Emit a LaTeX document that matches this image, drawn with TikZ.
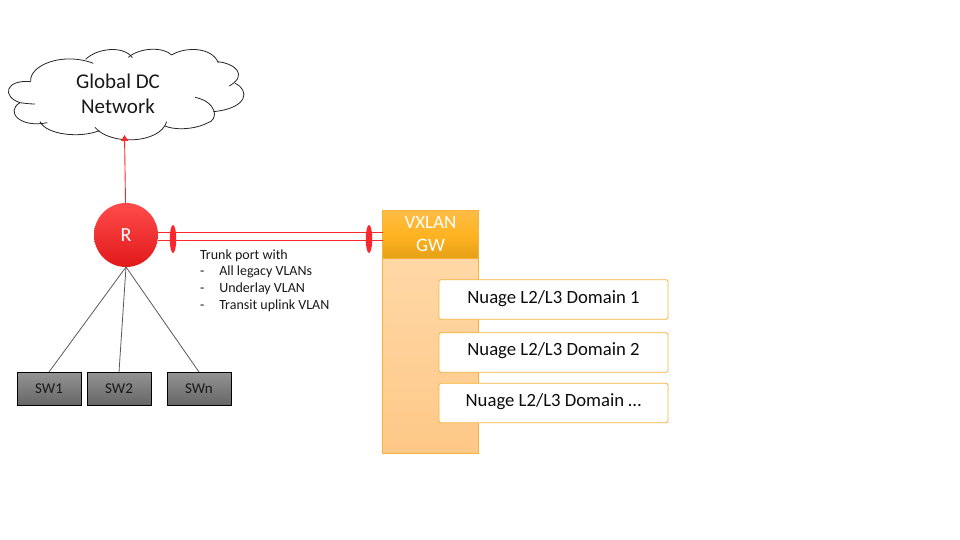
\documentclass[tikz,border=0pt]{standalone}
\usepackage{fontspec}
\setmainfont{Carlito}
\usetikzlibrary{arrows.meta,shapes.geometric}
\definecolor{linered}{RGB}{250,40,45}
\definecolor{gwedge}{RGB}{247,178,60}
\definecolor{headtop}{RGB}{255,188,70}
\definecolor{headmid}{RGB}{255,180,35}
\definecolor{headbot}{RGB}{230,160,20}
\definecolor{bodytop}{RGB}{255,216,166}
\definecolor{bodybot}{RGB}{254,200,135}
\definecolor{routertop}{RGB}{255,75,75}
\definecolor{routerbot}{RGB}{225,25,25}
\tikzset{
  every node/.style={inner sep=0pt,outer sep=0pt},
  swbox/.style={draw=black,line width=0.9pt,minimum width=64pt,minimum height=33pt,
    top color=black!42,bottom color=black!60,font=\fontsize{15}{17}\selectfont,text=black!90},
  domainbox/.style={draw=gwedge,line width=0.9pt,rounded corners=1.5pt,fill=white,
    minimum width=229pt,minimum height=39.5pt,font=\fontsize{18.7}{21}\selectfont,text=black!95},
  tapmark/.style={ellipse,fill=linered,minimum width=6.5pt,minimum height=28pt},
  trunkline/.style={draw=linered,line width=0.9pt},
  swline/.style={draw=black!65,line width=0.8pt}
}
\begin{document}
\begin{tikzpicture}[x=1pt,y=-1pt]
\fill [white] (0,0) rectangle (960,540);
\useasboundingbox (0,0) rectangle (960,540);
% cloud, traced in 3x units
\begin{scope}[x=0.3333pt,y=-0.3333pt,shift={(0pt,-40pt)},line width=0.8pt,black!85]
\draw (92,125) .. controls (87,75) and (190,35) .. (280,70);
\draw (257,58) .. controls (290,25) and (370,15) .. (397,53);
\draw (385,52) .. controls (420,22) and (490,20) .. (515,45);
\draw (515,45) .. controls (555,20) and (635,20) .. (655,68);
\draw (652,65) .. controls (705,70) and (745,105) .. (688,138);
\draw (705,130) .. controls (750,150) and (745,205) .. (640,215);
\draw (585,172) .. controls (650,185) and (660,240) .. (620,250) .. controls (580,270) and (520,270) .. (495,258);
\draw (500,245) .. controls (480,312) and (330,317) .. (285,262);
\draw (298,272) .. controls (240,295) and (140,285) .. (120,245);
\draw (142,248) .. controls (60,265) and (15,215) .. (60,188) .. controls (75,190) and (90,192) .. (105,192);
\draw (60,188) .. controls (5,170) and (15,118) .. (92,125);
\end{scope}
\node [align=center,font=\fontsize{21}{25}\selectfont,text=black!90] (cloud) at (118,94) {Global DC\\Network};
\coordinate (cloudb) at (124.5,135);
% router and switches
\node [circle,minimum size=64pt,top color=routertop,bottom color=routerbot,text=white,font=\fontsize{20}{22}\selectfont] (R) at (126,235) {R};
\node [swbox] (sw1) at (49,388.5) {SW1};
\node [swbox] (sw2) at (119,388.5) {SW2};
\node [swbox] (swn) at (199,388.5) {SWn};
\draw [swline] (R.south) -- (sw1.north);
\draw [swline] (R.south) -- (sw2.north);
\draw [swline] (R.south) -- (swn.north);
\draw [linered,line width=0.9pt,-{Triangle[length=6pt,width=7pt]}] (R) -- (cloudb);
% gateway
\node [draw=gwedge,line width=0.9pt,minimum width=95.5pt,minimum height=196pt,top color=bodytop,bottom color=bodybot] (gwbody) at (430.5,355.5) {};
\node [draw=gwedge,line width=0.9pt,minimum width=95.5pt,minimum height=48pt,top color=headtop,bottom color=headbot,middle color=headmid,text=white,align=center,font=\fontsize{19}{23}\selectfont] (gw) at (430.5,234) {VXLAN\\GW};
\node [domainbox] (dom1) at (553.5,299.5) {\raisebox{5.5pt}{Nuage L2/L3 Domain 1}};
\node [domainbox] (dom2) at (553.5,352.5) {\raisebox{6pt}{Nuage L2/L3 Domain 2}};
\node [domainbox] (dom3) at (553.5,403) {\raisebox{5.5pt}{Nuage L2/L3 Domain \dots}};
% trunk
\draw [trunkline] (R.5) -- (R.5 -| gw.west);
\draw [trunkline] (R.-10) -- (R.-10 -| gw.west);
\node [tapmark] (tap1) at (173,239) {};
\node [tapmark] (tap2) at (369,239) {};
\node [anchor=north west,align=left,font=\fontsize{14}{16.6}\selectfont,text=black!90] (trunk) at (200,249.5) {Trunk port with\\-\hspace{15pt}All legacy VLANs\\-\hspace{15pt}Underlay VLAN\\-\hspace{15pt}Transit uplink VLAN};
\end{tikzpicture}
\end{document}
